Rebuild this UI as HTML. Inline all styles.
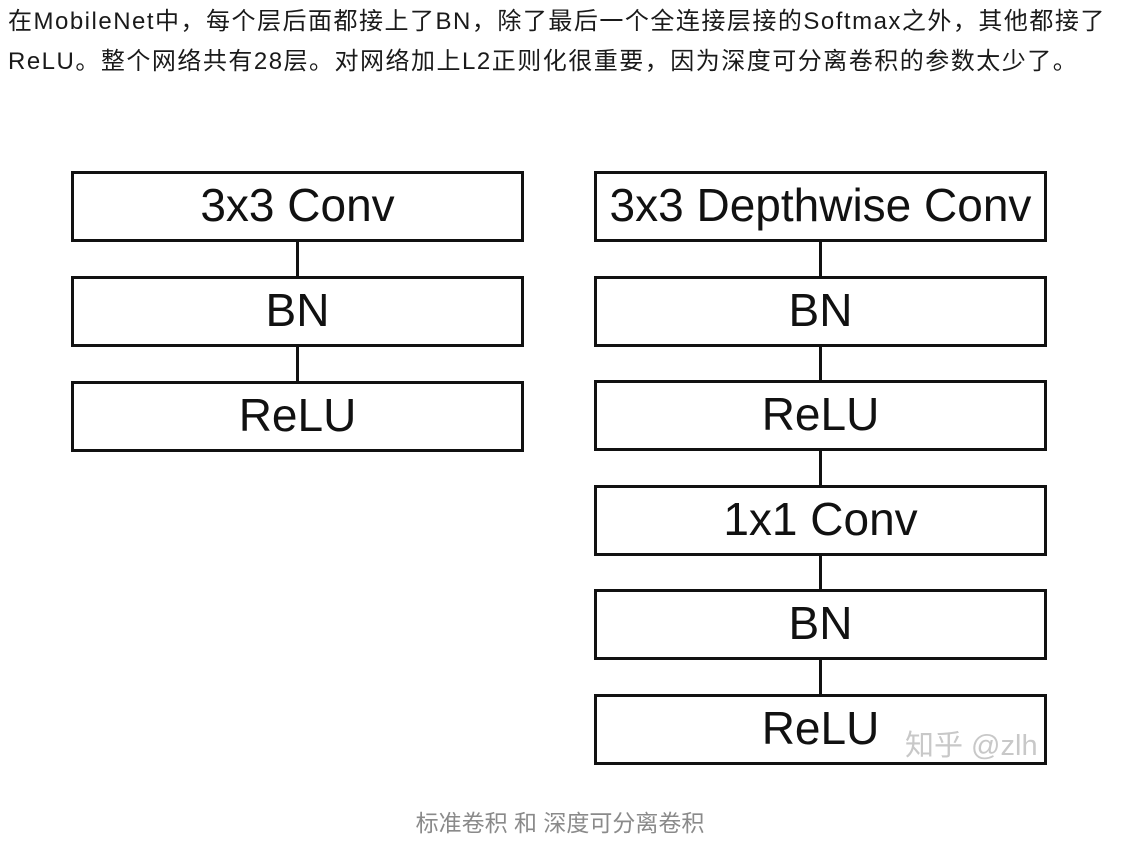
<!DOCTYPE html>
<html><head><meta charset="utf-8"><style>
body{margin:0;width:1140px;height:844px;background:#fff;position:relative;overflow:hidden;font-family:"Liberation Sans","Noto Sans CJK SC",sans-serif}
.t{position:absolute;left:8px;font-size:24px;color:#1a1a1a;white-space:nowrap;letter-spacing:1.5px;line-height:30px}
.b{position:absolute;box-sizing:border-box;border:3px solid #111;background:#fff;width:453px;height:71px;display:flex;align-items:center;justify-content:center;font-size:46px;color:#111;padding-bottom:4px}
.l{position:absolute;width:3px;background:#111}
</style></head><body>
<div class="t" style="top:7px">在MobileNet中，每个层后面都接上了BN，除了最后一个全连接层接的Softmax之外，其他都接了</div>
<div class="t" style="top:47px">ReLU。整个网络共有28层。对网络加上L2正则化很重要，因为深度可分离卷积的参数太少了。</div>

<div class="l" style="left:296px;top:240px;height:38px"></div>
<div class="l" style="left:296px;top:345px;height:38px"></div>
<div class="b" style="left:71px;top:171px">3x3 Conv</div>
<div class="b" style="left:71px;top:276px">BN</div>
<div class="b" style="left:71px;top:381px">ReLU</div>

<div class="l" style="left:819px;top:240px;height:456px"></div>
<div class="b" style="left:594px;top:171px">3x3 Depthwise Conv</div>
<div class="b" style="left:594px;top:276px">BN</div>
<div class="b" style="left:594px;top:380px">ReLU</div>
<div class="b" style="left:594px;top:485px">1x1 Conv</div>
<div class="b" style="left:594px;top:589px">BN</div>
<div class="b" style="left:594px;top:694px">ReLU</div>
<div style="position:absolute;left:905px;top:722px;font-size:29px;color:#c8c8c8">知乎 @zlh</div>
<div style="position:absolute;left:0;width:1120px;text-align:center;top:804px;font-size:23px;color:#8a8a8a">标准卷积 和 深度可分离卷积</div>
</body></html>
